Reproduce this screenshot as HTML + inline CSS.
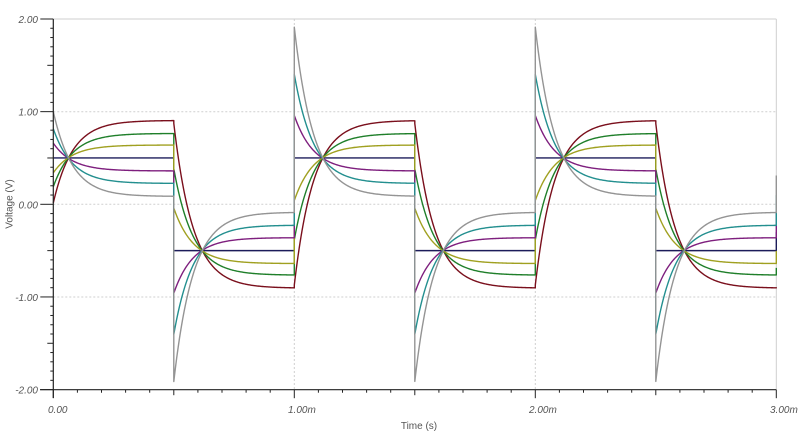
<!DOCTYPE html>
<html>
<head>
<meta charset="utf-8">
<style>
  html,body{margin:0;padding:0;background:#fff;}
  svg{display:block;}
  .tl{font-family:"Liberation Sans",sans-serif;font-size:10px;font-style:italic;fill:#555;}
  .al{font-family:"Liberation Sans",sans-serif;font-size:10px;fill:#555;}
</style>
</head>
<body>
<svg id="chart" width="800" height="437" viewBox="0 0 800 437" xmlns="http://www.w3.org/2000/svg">
  <rect x="0" y="0" width="800" height="437" fill="#fff"/>
  <!-- grid -->
  <line x1="53.3" y1="19" x2="776.3" y2="19" stroke="#cfcfcf" stroke-width="1"/>
  <line x1="53.3" y1="111.7" x2="776.3" y2="111.7" stroke="#cfcfcf" stroke-width="1" stroke-dasharray="2,2"/>
  <line x1="53.3" y1="204.3" x2="776.3" y2="204.3" stroke="#cfcfcf" stroke-width="1" stroke-dasharray="2,2"/>
  <line x1="53.3" y1="297" x2="776.3" y2="297" stroke="#cfcfcf" stroke-width="1" stroke-dasharray="2,2"/>
  <line x1="294.3" y1="19" x2="294.3" y2="389.7" stroke="#cfcfcf" stroke-width="1" stroke-dasharray="2,2"/>
  <line x1="535.3" y1="19" x2="535.3" y2="389.7" stroke="#cfcfcf" stroke-width="1" stroke-dasharray="2,2"/>
  <line x1="776.3" y1="19" x2="776.3" y2="389.7" stroke="#cfcfcf" stroke-width="1"/>

  <g id="curves" fill="none" stroke-width="1.4" stroke-linejoin="round"></g>

  <!-- axes -->
  <g id="ticks" stroke="#222" stroke-width="1"></g>
  <line x1="53.3" y1="19" x2="53.3" y2="398" stroke="#222" stroke-width="1.2"/>
  <line x1="40" y1="389.7" x2="776.3" y2="389.7" stroke="#222" stroke-width="1.2"/>

  <!-- y labels -->
  <text class="tl" x="38" y="23" text-anchor="end">2.00</text>
  <text class="tl" x="38" y="115.7" text-anchor="end">1.00</text>
  <text class="tl" x="38" y="208.3" text-anchor="end">0.00</text>
  <text class="tl" x="38" y="301" text-anchor="end">-1.00</text>
  <text class="tl" x="38" y="393.7" text-anchor="end">-2.00</text>

  <!-- x labels -->
  <text class="tl" x="48" y="413">0.00</text>
  <text class="tl" x="288" y="413">1.00m</text>
  <text class="tl" x="529" y="413">2.00m</text>
  <text class="tl" x="770" y="413">3.00m</text>

  <text class="al" x="419" y="429" text-anchor="middle">Time (s)</text>
  <text class="al" x="0" y="0" text-anchor="middle" transform="translate(12.5,204) rotate(-90)">Voltage (V)</text>
</svg>
<script>
(function(){
  var NS="http://www.w3.org/2000/svg";
  var X=function(t){return 53.3+t*241;};
  var Y=function(v){return 204.3-v*92.65;};
  // ticks
  var tg=document.getElementById('ticks');
  function ln(x1,y1,x2,y2){var l=document.createElementNS(NS,'line');l.setAttribute('x1',x1);l.setAttribute('y1',y1);l.setAttribute('x2',x2);l.setAttribute('y2',y2);tg.appendChild(l);}
  for(var i=-20;i<=20;i++){
    var y=Y(i/10);
    var len = (i%10===0)?13:((i%5===0)?6:3);
    ln(53.3-len,y,53.3,y);
  }
  for(var j=0;j<=30;j++){
    var x=X(j/10);
    var len2=(j%10===0)?8.5:((j%5===0)?5.5:3);
    ln(x,389.7,x,389.7+len2);
  }
  // curves
  var T=0.08;
  var curves=[
    {g:1.0,J:1.0,c:'#1c1c5a'},
    {g:1.81,J:0.03,c:'#7a0f1c'},
    {g:1.53,J:0.38,c:'#1f7f2a'},
    {g:1.28,J:0.68,c:'#a0a020'},
    {g:0.72,J:1.32,c:'#7e1f7e'},
    {g:0.45,J:1.63,c:'#238f8f'},
    {g:0.17,J:2.0,c:'#949494'}
  ];
  var steps=[[0,0.5],[0.5,-1],[1,1],[1.5,-1],[2,1],[2.5,-1]];
  var cg=document.getElementById('curves');
  curves.forEach(function(cv){
    var g=cv.g,J=cv.J;
    function val(t,n){
      var s=0;
      for(var k=0;k<n;k++){var tk=steps[k][0],d=steps[k][1];s+=d*(g+(J-g)*Math.exp(-(t-tk)/T));}
      return s;
    }
    var pts=[];
    for(var k=0;k<steps.length;k++){
      var tk=steps[k][0];
      if(k>0) pts.push([tk,val(tk,k)]);
      pts.push([tk,val(tk,k+1)]);
      for(var t=tk+0.004;t<tk+0.5-0.0001;t+=0.004){pts.push([t,val(t,k+1)]);}
    }
    var pre=val(3,6);
    pts.push([3,pre]);
    pts.push([3,pre+0.2*J]);
    var d='';
    pts.forEach(function(p,i){d+=(i?'L':'M')+X(p[0]).toFixed(2)+' '+Y(p[1]).toFixed(2);});
    var path=document.createElementNS(NS,'path');
    path.setAttribute('d',d);
    path.setAttribute('stroke',cv.c);
    cg.appendChild(path);
  });
})();
</script>
</body>
</html>
